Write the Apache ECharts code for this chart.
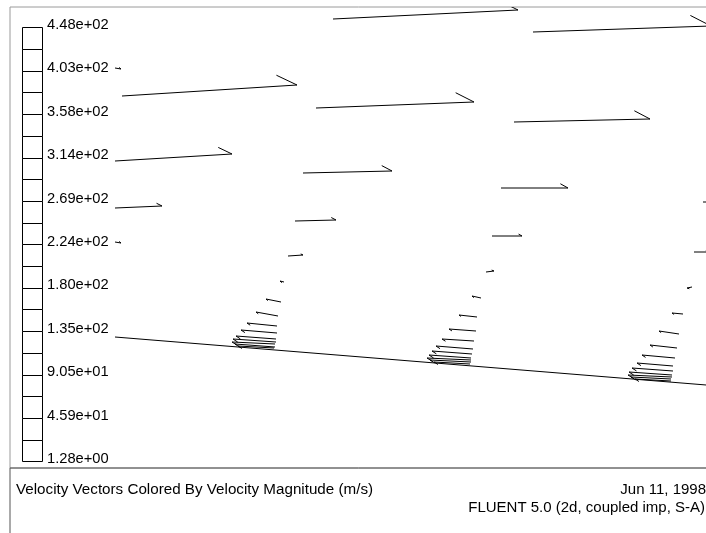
<!DOCTYPE html>
<html>
<head>
<meta charset="utf-8">
<title>Velocity Vectors</title>
<script src="https://cdn.jsdelivr.net/npm/echarts@6/dist/echarts.min.js"></script>
<style>
  html, body { margin: 0; padding: 0; background: #fff; }
  #chart { width: 706px; height: 533px; }
</style>
</head>
<body>
<div id="chart"></div>
<script>
// colour bar tick labels, bottom to top (m/s)
var barLabels = ['1.28e+00', '4.59e+01', '9.05e+01', '1.35e+02', '1.80e+02', '2.24e+02',
  '2.69e+02', '3.14e+02', '3.58e+02', '4.03e+02', '4.48e+02'];

// vectors: [x tail, y tail, dx, dy] in plot units (y grows downwards)
var freeStream = [
  [333, 19, 185, -9], [533, 32, 178, -6], [122, 96, 175, -11], [316, 108, 158, -6],
  [514, 122, 136, -3], [115, 161, 117, -7], [303, 173, 89, -2], [501, 188, 67, 0],
  [115, 208, 47, -2], [295, 221, 41, -1], [492, 236, 30, 0], [115, 68, 6, 1],
  [115, 242, 6, 1], [703, 202, 13, 0]
];
var wallRow1 = [
  [288, 256, 15, -1], [284, 282, -4, -1], [281, 302, -15, -3], [278, 316, -22, -4],
  [277, 326, -30, -3], [277, 333, -36, -3], [276, 339, -40, -3], [276, 342, -43, -3],
  [275, 344, -43, -2], [275, 347, -40, -3], [274, 348, -36, -2]
];
var wallRow2 = [
  [486, 272, 8, -1], [481, 298, -9, -2], [477, 317, -18, -2], [476, 331, -27, -2],
  [474, 341, -32, -2], [473, 349, -37, -3], [472, 354, -40, -3], [471, 358, -42, -3],
  [471, 360, -44, -2], [471, 362, -41, -2], [470, 364, -36, -2]
];
var wallRow3 = [
  [694, 252, 14, 0], [692, 287, -5, 1], [683, 314, -11, -1], [679, 334, -20, -3],
  [677, 348, -27, -3], [675, 358, -33, -3], [673, 366, -36, -3], [673, 371, -41, -3],
  [672, 375, -43, -3], [672, 377, -44, -2], [671, 379, -40, -2], [671, 381, -36, -2]
];
// wall surface
var wallX = [115, 716];
var wallY = [337, 385.8];

var font = "'Liberation Sans', Arial, sans-serif";
var chart = echarts.init(document.getElementById('chart'));

function renderVector(params, api) {
  var p0 = api.coord([api.value(0), api.value(1)]);
  var p1 = api.coord([api.value(0) + api.value(2), api.value(1) + api.value(3)]);
  var dx = p0[0] - p1[0], dy = p0[1] - p1[1];
  var len = Math.sqrt(dx * dx + dy * dy) || 1;
  var ux = dx / len, uy = dy / len;
  var a = 29 * Math.PI / 180;
  var bl = Math.max(len * 0.13, 2.5);
  var bx = ux * Math.cos(a) - uy * Math.sin(a);
  var by = ux * Math.sin(a) + uy * Math.cos(a);
  var st = { stroke: '#000', lineWidth: 1 };
  return {
    type: 'group',
    children: [
      { type: 'line', shape: { x1: p0[0], y1: p0[1], x2: p1[0], y2: p1[1] }, style: st },
      { type: 'line', shape: { x1: p1[0], y1: p1[1], x2: p1[0] + bx * bl, y2: p1[1] + by * bl }, style: st }
    ]
  };
}

function renderBox(params, api) {
  var i = api.value(0);
  var a = api.coord([0, i + 1]);
  var b = api.coord([1, i]);
  var x = Math.round(a[0]) + 0.5, y = Math.round(a[1]) + 0.5;
  return {
    type: 'rect',
    shape: { x: x, y: y, width: Math.round(b[0] - a[0]), height: Math.round(b[1] - a[1]) },
    style: { fill: '#fff', stroke: '#000', lineWidth: 1 }
  };
}

var boxes = [];
for (var i = 0; i < (barLabels.length - 1) * 2; i++) boxes.push([i]);

function vectorSeries(data) {
  return {
    type: 'custom', xAxisIndex: 0, yAxisIndex: 0, clip: true,
    renderItem: renderVector, data: data, silent: true
  };
}

var options = {
  animation: false,
  backgroundColor: '#fff',
  title: [
    { text: 'Velocity Vectors Colored By Velocity Magnitude (m/s)', left: 16, top: 482, padding: 0,
      textStyle: { fontFamily: font, fontSize: 15.2, fontWeight: 'normal', color: '#000' } },
    { text: 'Jun 11, 1998', right: 0, top: 482, padding: 0,
      textStyle: { fontFamily: font, fontSize: 15, fontWeight: 'normal', color: '#000' } },
    { text: 'FLUENT 5.0 (2d, coupled imp, S-A)', right: 1, top: 500, padding: 0,
      textStyle: { fontFamily: font, fontSize: 15, fontWeight: 'normal', color: '#000' } }
  ],
  grid: [
    { left: 10, top: 7, width: 720, height: 461, show: true, borderColor: '#9a9a9a', borderWidth: 1,
      backgroundColor: 'transparent', outerBoundsMode: 'none' },
    { left: 22, top: 27, width: 20, height: 434, outerBoundsMode: 'none' },
    { left: 10, top: 468, width: 720, height: 100, show: true, borderColor: '#555', borderWidth: 1,
      backgroundColor: 'transparent', outerBoundsMode: 'none' }
  ],
  xAxis: [
    { gridIndex: 0, type: 'value', min: 10, max: 730, show: false },
    { gridIndex: 1, type: 'value', min: 0, max: 1, show: false },
    { gridIndex: 2, type: 'value', min: 0, max: 1, show: false }
  ],
  yAxis: [
    { gridIndex: 0, type: 'value', min: 7, max: 468, inverse: true, show: false },
    { gridIndex: 1, type: 'value', min: 0, max: 20, interval: 2, position: 'right',
      axisLine: { show: false }, axisTick: { show: false }, splitLine: { show: false },
      axisLabel: {
        margin: 5, color: '#000', fontFamily: font, fontSize: 14.7,
        verticalAlign: 'bottom', lineHeight: 4, showMinLabel: true, showMaxLabel: true,
        formatter: function (v) { return barLabels[Math.round(v / 2)]; }
      }
    },
    { gridIndex: 2, type: 'value', min: 0, max: 1, show: false }
  ],
  series: [
    {
      type: 'line', xAxisIndex: 0, yAxisIndex: 0, symbol: 'none', silent: true,
      data: wallX.map(function (x, k) { return [x, wallY[k]]; }),
      lineStyle: { color: '#000', width: 1 }
    },
    vectorSeries(freeStream),
    vectorSeries(wallRow1),
    vectorSeries(wallRow2),
    vectorSeries(wallRow3),
    {
      type: 'custom', xAxisIndex: 1, yAxisIndex: 1, silent: true,
      renderItem: renderBox, data: boxes
    }
  ]
};

chart.setOption(options, true);
</script>
</body>
</html>
